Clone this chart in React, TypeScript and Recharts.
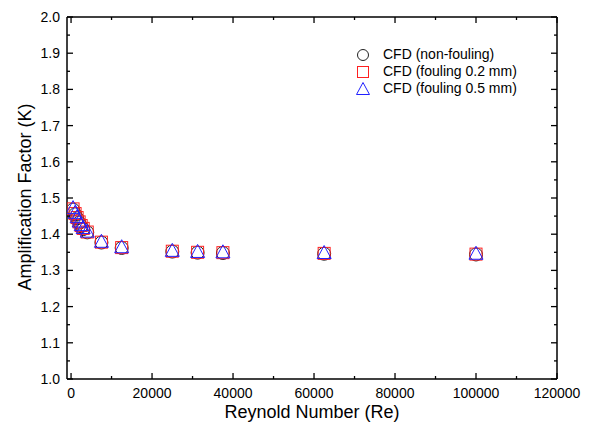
import { ScatterChart, Scatter, XAxis, YAxis } from 'recharts';

const reynolds = [500, 1000, 1500, 2000, 2500, 3000, 4000, 7500, 12500, 25000, 31250, 37500, 62500, 100000];
const kNonFouling = [1.468, 1.455, 1.444, 1.432, 1.422, 1.414, 1.405, 1.377, 1.362, 1.352, 1.349, 1.348, 1.346, 1.344];
const kFouling02 = [1.470, 1.457, 1.446, 1.434, 1.424, 1.416, 1.406, 1.378, 1.363, 1.353, 1.350, 1.349, 1.347, 1.345];
const kFouling05 = [1.472, 1.459, 1.447, 1.435, 1.425, 1.417, 1.407, 1.379, 1.364, 1.354, 1.351, 1.350, 1.348, 1.346];

const xTicks = [0, 10000, 20000, 30000, 40000, 50000, 60000, 70000, 80000, 90000, 100000, 110000, 120000];
const yTicks = [1.0, 1.05, 1.1, 1.15, 1.2, 1.25, 1.3, 1.35, 1.4, 1.45, 1.5, 1.55, 1.6, 1.65, 1.7, 1.75, 1.8, 1.85, 1.9, 1.95, 2.0];

const legendItems = ['CFD (non-fouling)', 'CFD (fouling 0.2 mm)', 'CFD (fouling 0.5 mm)'];

const toPoints = (ys: number[]) => reynolds.map((re, i) => ({ re, k: ys[i] }));

const FONT = 'Arial, "Liberation Sans", sans-serif';

const isMajorX = (v: number) => v % 20000 === 0;
const isMajorY = (v: number) => Math.round(v * 100) % 10 === 0;

const BottomTick = ({ x, y, payload }: any) => {
  const major = isMajorX(payload.value);
  return (
    <g>
      <line x1={x} x2={x} y1={y} y2={y - (major ? 6 : 3)} stroke="#000" strokeWidth={1.3} />
      {major && (
        <text x={x} y={y + 19} textAnchor="middle" fontSize={14} fontFamily={FONT} fill="#000">
          {payload.value}
        </text>
      )}
    </g>
  );
};

const TopTick = ({ x, y, payload }: any) => {
  const major = isMajorX(payload.value);
  return <line x1={x} x2={x} y1={y} y2={y + (major ? 6 : 3)} stroke="#000" strokeWidth={1.3} />;
};

const LeftTick = ({ x, y, payload }: any) => {
  const major = isMajorY(payload.value);
  return (
    <g>
      <line x1={x} x2={x + (major ? 6 : 3)} y1={y} y2={y} stroke="#000" strokeWidth={1.3} />
      {major && (
        <text x={x - 7} y={y + 5} textAnchor="end" fontSize={14} fontFamily={FONT} fill="#000">
          {payload.value.toFixed(1)}
        </text>
      )}
    </g>
  );
};

const RightTick = ({ x, y, payload }: any) => {
  const major = isMajorY(payload.value);
  return <line x1={x} x2={x - (major ? 6 : 3)} y1={y} y2={y} stroke="#000" strokeWidth={1.3} />;
};

const CircleMark = ({ cx, cy }: any) => (
  <circle cx={cx} cy={cy} r={6.5} fill="none" stroke="#222" strokeWidth={1} />
);
const SquareMark = ({ cx, cy }: any) => (
  <rect x={cx - 6} y={cy - 6} width={12} height={12} fill="none" stroke="#ff2020" strokeWidth={1} />
);
const TriangleMark = ({ cx, cy }: any) => (
  <path d={`M${cx},${cy - 7.5} L${cx + 7},${cy + 5.5} L${cx - 7},${cy + 5.5} Z`} fill="none" stroke="#2020ff" strokeWidth={1} />
);

const legendIcon = (i: number) => {
  if (i === 0) return <circle cx={8} cy={8} r={5.5} fill="none" stroke="#222" strokeWidth={1} />;
  if (i === 1) return <rect x={2.5} y={2.5} width={11} height={11} fill="none" stroke="#ff2020" strokeWidth={1} />;
  return <path d="M8,1.5 L14.5,13.5 L1.5,13.5 Z" fill="none" stroke="#2020ff" strokeWidth={1} />;
};

export default function App() {
  return (
    <div style={{ position: 'absolute', left: 0, top: 0, width: 592, height: 430, background: '#fff', fontFamily: FONT }}>
      <ScatterChart width={592} height={430} margin={{ top: 12, right: 25, bottom: 21, left: 27 }}>
        <XAxis
          xAxisId="bottom"
          type="number"
          dataKey="re"
          domain={[-1000, 120000]}
          ticks={xTicks}
          interval={0}
          allowDataOverflow
          height={30}
          tickSize={0}
          tickMargin={0}
          tickLine={false}
          tick={<BottomTick />}
          axisLine={{ stroke: '#000', strokeWidth: 1.5 }}
        />
        <XAxis
          xAxisId="top"
          orientation="top"
          type="number"
          dataKey="re"
          domain={[-1000, 120000]}
          ticks={xTicks}
          interval={0}
          allowDataOverflow
          height={5}
          tickSize={0}
          tickMargin={0}
          tickLine={false}
          tick={<TopTick />}
          axisLine={{ stroke: '#000', strokeWidth: 1.5 }}
        />
        <YAxis
          yAxisId="left"
          type="number"
          dataKey="k"
          domain={[1.0, 2.0]}
          ticks={yTicks}
          interval={0}
          allowDataOverflow
          width={40}
          tickSize={0}
          tickMargin={0}
          tickLine={false}
          tick={<LeftTick />}
          axisLine={{ stroke: '#000', strokeWidth: 1.5 }}
        />
        <YAxis
          yAxisId="right"
          orientation="right"
          type="number"
          dataKey="k"
          domain={[1.0, 2.0]}
          ticks={yTicks}
          interval={0}
          allowDataOverflow
          width={10}
          tickSize={0}
          tickMargin={0}
          tickLine={false}
          tick={<RightTick />}
          axisLine={{ stroke: '#000', strokeWidth: 1.5 }}
        />
        <Scatter name={legendItems[0]} data={toPoints(kNonFouling)} xAxisId="bottom" yAxisId="left" shape={<CircleMark />} isAnimationActive={false} />
        <Scatter name={legendItems[1]} data={toPoints(kFouling02)} xAxisId="bottom" yAxisId="left" shape={<SquareMark />} isAnimationActive={false} />
        <Scatter name={legendItems[2]} data={toPoints(kFouling05)} xAxisId="bottom" yAxisId="left" shape={<TriangleMark />} isAnimationActive={false} />
      </ScatterChart>

      {/* legend */}
      <div style={{ position: 'absolute', left: 355, top: 46, fontSize: 14, color: '#000', lineHeight: '17px' }}>
        {legendItems.map((label, i) => (
          <div key={label} style={{ display: 'flex', alignItems: 'center' }}>
            <svg width={16} height={16} style={{ marginRight: 12 }}>{legendIcon(i)}</svg>
            <span>{label}</span>
          </div>
        ))}
      </div>

      {/* axis titles */}
      <div style={{ position: 'absolute', left: 0, top: 402, width: 624, textAlign: 'center', fontSize: 18, color: '#000' }}>
        Reynold Number (Re)
      </div>
      <div
        style={{
          position: 'absolute',
          left: 25,
          top: 197,
          transform: 'translate(-50%, -50%) rotate(-90deg)',
          whiteSpace: 'nowrap',
          fontSize: 18,
          color: '#000',
        }}
      >
        Amplification Factor (K)
      </div>
    </div>
  );
}
